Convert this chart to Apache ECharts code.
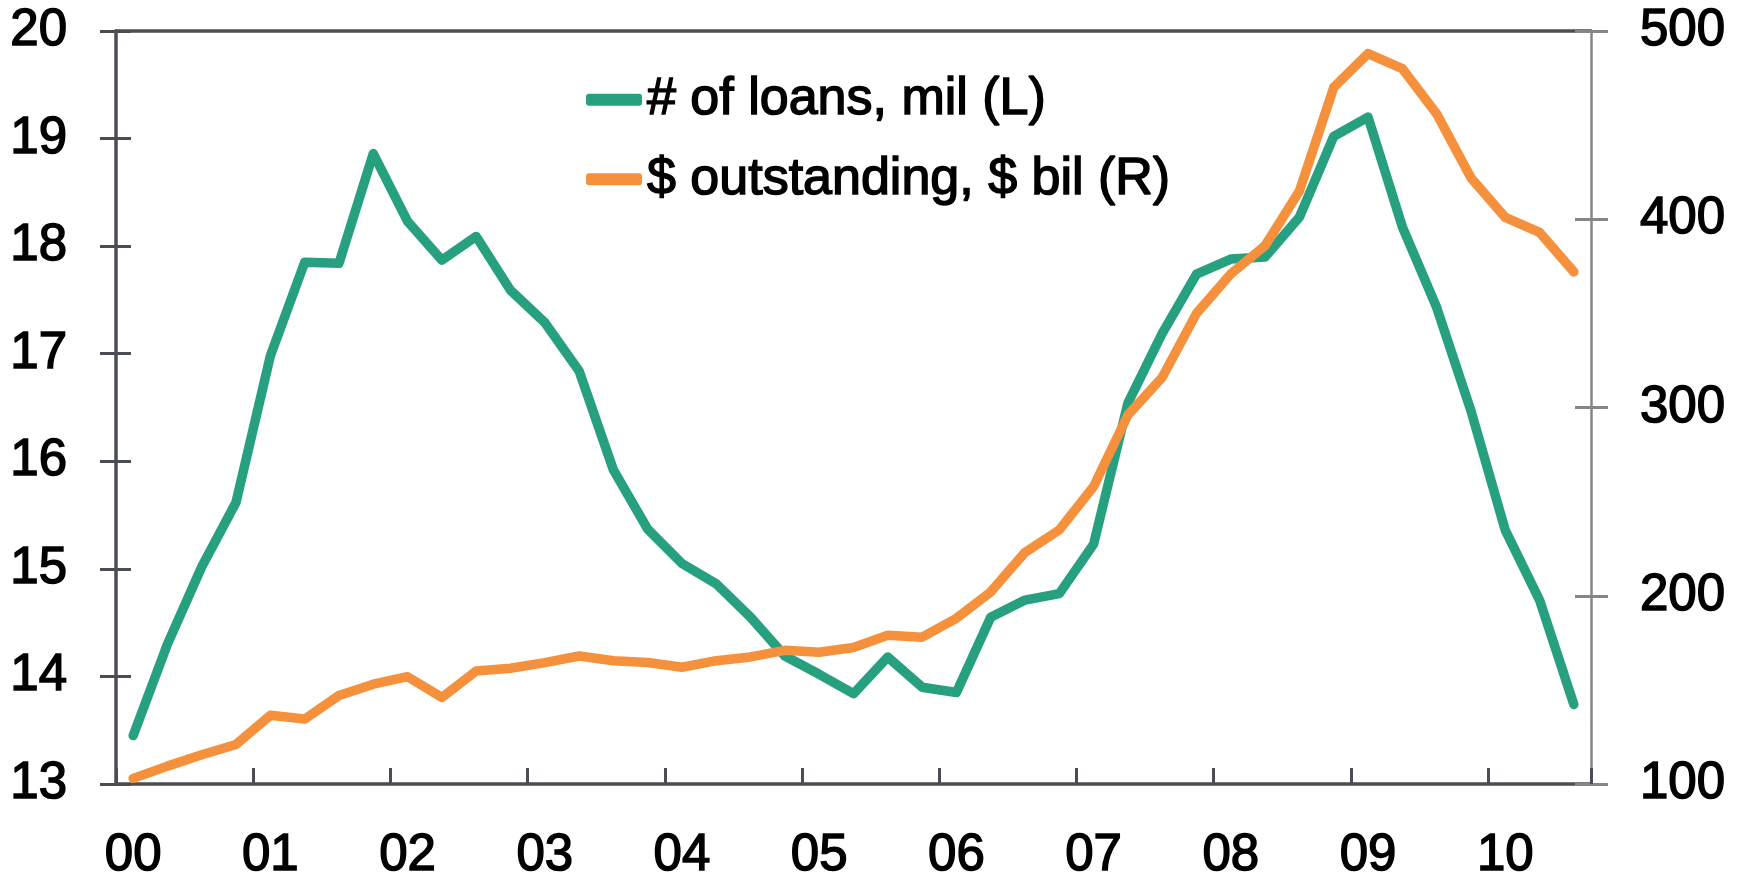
<!DOCTYPE html>
<html>
<head>
<meta charset="utf-8">
<title>Loans</title>
<script src="https://cdn.jsdelivr.net/npm/echarts/dist/echarts.min.js"></script>
<style>
html, body { margin: 0; padding: 0; background: #fff; }
#chart { width: 1745px; height: 886px; }
</style>
</head>
<body>
<div id="chart"></div>
<script>
// quarterly, 2000Q1 .. 2010Q3
var yearLabels = ['00', '01', '02', '03', '04', '05', '06', '07', '08', '09', '10'];
var quarters = ['Q1', 'Q2', 'Q3', 'Q4'];
var lastYearQuarters = 3;

var loans = [13.45, 14.30, 15.02, 15.62, 16.98, 17.85, 17.84, 18.86, 18.23, 17.87,
             18.09, 17.59, 17.29, 16.84, 15.92, 15.37, 15.05, 14.86, 14.55, 14.19,
             14.02, 13.84, 14.18, 13.90, 13.85, 14.55, 14.71, 14.77, 15.23, 16.54,
             17.19, 17.74, 17.88, 17.90, 18.27, 19.02, 19.20, 18.18, 17.43, 16.47,
             15.36, 14.71, 13.74];
var outstanding = [103, 109.5, 115.5, 121, 136.5, 134.5, 147, 153, 157, 146,
                   160, 161.5, 164.5, 168, 165.5, 164.5, 162, 165.5, 167.5, 171,
                   170, 172.5, 179, 178, 188, 202, 223, 235, 258, 296,
                   316, 350, 371, 386, 415, 470, 488, 480, 456, 422,
                   401, 393, 372];

var leftTicks = [13, 20, 1];
var rightTicks = [100, 500, 100];

var categories = [];
yearLabels.forEach(function (y, i) {
    var n = i === yearLabels.length - 1 ? lastYearQuarters : 4;
    for (var q = 0; q < n; q++) categories.push(y + quarters[q]);
});

var dark = '#4a4e54';
var grey = '#868686';
var font = "'Liberation Sans', Arial, sans-serif";
var labelText = { fontSize: 51, color: '#000', fontFamily: font, textBorderColor: '#000', textBorderWidth: 1.5 };

var chart = echarts.init(document.getElementById('chart'));
var option = {
    backgroundColor: '#fff',
    animation: false,
    textStyle: { fontFamily: font },
    grid: { left: 116, right: 154, top: 31, bottom: 102, outerBoundsMode: 'none' },
    legend: {
        orient: 'vertical',
        left: 586,
        top: 73,
        padding: 0,
        itemWidth: 56,
        itemHeight: 12,
        itemGap: 26,
        icon: 'roundRect',
        textStyle: Object.assign({}, labelText, { fontSize: 52, lineHeight: 52 }),
        data: ['# of loans, mil (L)', '$ outstanding, $ bil (R)']
    },
    xAxis: [
        {
            type: 'category', position: 'bottom',
            data: categories, boundaryGap: true,
            axisLine: { lineStyle: { color: dark, width: 3.5 } },
            axisTick: { interval: 3, length: 16, lineStyle: { color: dark, width: 3 } },
            axisLabel: Object.assign({
                interval: 3, margin: 46,
                formatter: function (v) { return v.slice(0, 2); }
            }, labelText),
            splitLine: { show: false }
        },
        {
            type: 'category', position: 'top',
            data: categories, boundaryGap: true,
            axisLine: { lineStyle: { color: dark, width: 3.5 } },
            axisTick: { show: false }, axisLabel: { show: false }, splitLine: { show: false }
        },
        {
            // inner half of the crossing year ticks
            type: 'category', position: 'bottom',
            data: categories, boundaryGap: true,
            axisLine: { show: false, onZero: false },
            axisTick: { show: true, inside: true, interval: 3, length: 16, lineStyle: { color: dark, width: 3 } },
            axisLabel: { show: false }, splitLine: { show: false }
        }
    ],
    yAxis: [
        {
            type: 'value', position: 'left',
            min: leftTicks[0], max: leftTicks[1], interval: leftTicks[2],
            axisLine: { show: true, lineStyle: { color: dark, width: 3.5 } },
            axisTick: { show: true, length: 16, lineStyle: { color: dark, width: 3 } },
            axisLabel: Object.assign({ margin: 49 }, labelText),
            splitLine: { show: false }
        },
        {
            type: 'value', position: 'right',
            min: rightTicks[0], max: rightTicks[1], interval: rightTicks[2],
            axisLine: { show: true, lineStyle: { color: grey, width: 2.5 } },
            axisTick: { show: true, length: 17, lineStyle: { color: grey, width: 3 } },
            axisLabel: Object.assign({ margin: 49 }, labelText),
            splitLine: { show: false }
        },
        {
            // inner half of the crossing left ticks
            type: 'value', position: 'left',
            min: leftTicks[0], max: leftTicks[1], interval: leftTicks[2],
            axisLine: { show: false, onZero: false },
            axisTick: { show: true, inside: true, length: 15, lineStyle: { color: dark, width: 3 } },
            axisLabel: { show: false }, splitLine: { show: false }
        },
        {
            // inner half of the crossing right ticks
            type: 'value', position: 'right',
            min: rightTicks[0], max: rightTicks[1], interval: rightTicks[2],
            axisLine: { show: false, onZero: false },
            axisTick: { show: true, inside: true, length: 16, lineStyle: { color: grey, width: 3 } },
            axisLabel: { show: false }, splitLine: { show: false }
        }
    ],
    series: [
        {
            name: '# of loans, mil (L)',
            type: 'line',
            xAxisIndex: 0, yAxisIndex: 0,
            data: loans,
            symbol: 'none',
            itemStyle: { color: '#27a07f' },
            lineStyle: { color: '#27a07f', width: 9.5, cap: 'round', join: 'round' }
        },
        {
            name: '$ outstanding, $ bil (R)',
            type: 'line',
            xAxisIndex: 0, yAxisIndex: 1,
            data: outstanding,
            symbol: 'none',
            itemStyle: { color: '#f5903d' },
            lineStyle: { color: '#f5903d', width: 9.5, cap: 'round', join: 'round' }
        },
        // empty series so the tick-only axes get drawn
        { type: 'line', xAxisIndex: 2, yAxisIndex: 2, data: [], silent: true },
        { type: 'line', xAxisIndex: 2, yAxisIndex: 3, data: [], silent: true }
    ]
};
chart.setOption(option);
</script>
</body>
</html>
